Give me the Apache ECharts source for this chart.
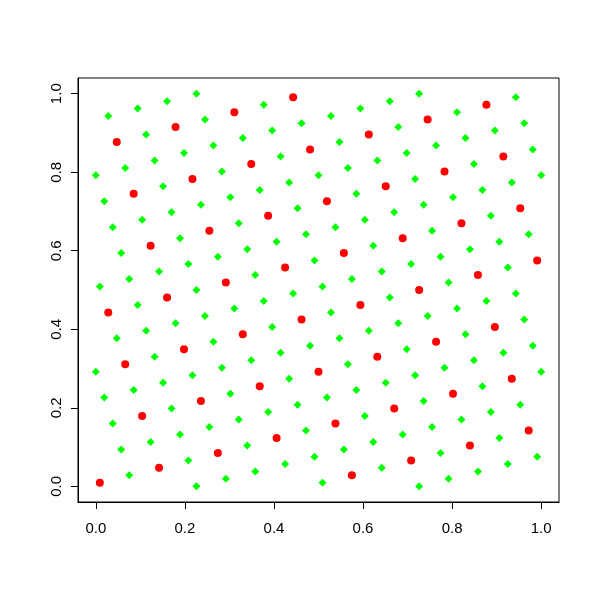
<!DOCTYPE html>
<html>
<head>
<meta charset="utf-8">
<script src="https://cdn.jsdelivr.net/npm/echarts@6/dist/echarts.min.js"></script>
<style>html,body{margin:0;padding:0;background:#fff;}#c{width:600px;height:600px;}</style>
</head>
<body>
<div id="c"></div>
<script>
var tickValues = [0, 0.2, 0.4, 0.6, 0.8, 1.0];

var redX = [0.009,0.028,0.047,0.066,0.085,0.104,0.123,0.142,0.160,0.179,0.198,0.217,0.236,0.255,0.274,0.292,0.311,0.330,0.349,0.368,0.387,0.406,0.425,0.443,0.462,0.481,0.500,0.519,0.538,0.557,0.575,0.594,0.613,0.632,0.651,0.670,0.689,0.708,0.726,0.745,0.764,0.783,0.802,0.821,0.840,0.858,0.877,0.896,0.915,0.934,0.953,0.972,0.991];
var redY = [0.009,0.443,0.877,0.311,0.745,0.179,0.613,0.047,0.481,0.915,0.349,0.783,0.217,0.651,0.085,0.519,0.953,0.387,0.821,0.255,0.689,0.123,0.557,0.991,0.425,0.858,0.292,0.726,0.160,0.594,0.028,0.462,0.896,0.330,0.764,0.198,0.632,0.066,0.500,0.934,0.368,0.802,0.236,0.670,0.104,0.538,0.972,0.406,0.840,0.274,0.708,0.142,0.575];

var greenX = [
0.000,0.000,0.019,0.019,0.038,0.038,0.057,0.057,0.075,0.075,0.094,0.094,0.113,0.113,0.132,0.132,0.151,0.151,0.170,0.170,
0.189,0.189,0.208,0.208,0.226,0.226,0.245,0.245,0.264,0.264,0.283,0.283,0.302,0.302,0.321,0.321,0.340,0.340,0.358,0.358,
0.377,0.377,0.396,0.396,0.415,0.415,0.434,0.434,0.453,0.453,0.472,0.472,0.491,0.491,0.509,0.509,0.528,0.528,0.547,0.547,
0.566,0.566,0.585,0.585,0.604,0.604,0.623,0.623,0.642,0.642,0.660,0.660,0.679,0.679,0.698,0.698,0.717,0.717,0.736,0.736,
0.755,0.755,0.774,0.774,0.792,0.792,0.811,0.811,0.830,0.830,0.849,0.849,0.868,0.868,0.887,0.887,0.906,0.906,0.925,0.925,
0.943,0.943,0.962,0.962,0.981,0.981,
0.009,0.028,0.047,0.066,0.085,0.104,0.123,0.142,0.160,0.179,0.198,0.217,0.236,0.255,0.274,0.292,0.311,0.330,0.349,0.368,
0.387,0.406,0.425,0.443,0.462,0.481,0.500,0.519,0.538,0.557,0.575,0.594,0.613,0.632,0.651,0.670,0.689,0.708,0.726,0.745,
0.764,0.783,0.802,0.821,0.840,0.858,0.877,0.896,0.915,0.934,0.953,0.972,0.991,
1.000,1.000,0.226,0.726];
var greenY = [
0.792,0.292,0.226,0.726,0.660,0.160,0.094,0.594,0.528,0.028,0.962,0.462,0.396,0.896,0.830,0.330,0.264,0.764,0.698,0.198,
0.132,0.632,0.566,0.066,0.000,0.500,0.434,0.934,0.868,0.368,0.302,0.802,0.736,0.236,0.170,0.670,0.604,0.104,0.038,0.538,
0.472,0.972,0.906,0.406,0.340,0.840,0.774,0.274,0.208,0.708,0.642,0.142,0.075,0.575,0.509,0.009,0.943,0.443,0.377,0.877,
0.811,0.311,0.245,0.745,0.679,0.179,0.113,0.613,0.547,0.047,0.981,0.481,0.415,0.915,0.849,0.349,0.283,0.783,0.717,0.217,
0.151,0.651,0.585,0.085,0.019,0.519,0.453,0.953,0.887,0.387,0.321,0.821,0.755,0.255,0.189,0.689,0.623,0.123,0.057,0.557,
0.491,0.991,0.925,0.425,0.358,0.858,
0.509,0.943,0.377,0.811,0.245,0.679,0.113,0.547,0.981,0.415,0.849,0.283,0.717,0.151,0.585,0.019,0.453,0.887,0.321,0.755,
0.189,0.623,0.057,0.491,0.925,0.358,0.792,0.226,0.660,0.094,0.528,0.962,0.396,0.830,0.264,0.698,0.132,0.566,0.000,0.434,
0.868,0.302,0.736,0.170,0.604,0.038,0.472,0.906,0.340,0.774,0.208,0.642,0.075,
0.792,0.292,1.000,1.000];

function pairs(xs, ys) {
  var out = [];
  for (var i = 0; i < xs.length; i++) out.push([xs[i], ys[i]]);
  return out;
}

var chart = echarts.init(document.getElementById('c'), null, {renderer: 'canvas'});
var fontFam = '"Liberation Sans", Arial, sans-serif';
function axisCommon() {
  return {
    type: 'value',
    min: -0.04,
    max: 1.04,
    splitLine: {show: false},
    axisLine: {show: true, onZero: false, lineStyle: {color: '#000', width: 1}},
    axisTick: {show: true, inside: false, length: 7, customValues: tickValues,
               lineStyle: {color: '#000', width: 1}},
    axisLabel: {show: true, customValues: tickValues, color: '#000', fontSize: 15,
                fontFamily: fontFam,
                formatter: function (v) { return v.toFixed(1); }}
  };
}
var xa = axisCommon();
xa.axisLabel.margin = 19;
var ya = axisCommon();
ya.axisLabel.rotate = 90;
ya.axisLabel.margin = 14;

chart.setOption({
  backgroundColor: '#fff',
  animation: false,
  grid: {left: 78, right: 41, top: 78, bottom: 98, show: true,
         borderColor: '#000', borderWidth: 1, backgroundColor: 'transparent'},
  xAxis: xa,
  yAxis: ya,
  series: [
    {type: 'scatter', name: 'green', data: pairs(greenX, greenY), symbol: 'diamond',
     symbolSize: 8, itemStyle: {color: '#00FF00', opacity: 1}, silent: true},
    {type: 'scatter', name: 'red', data: pairs(redX, redY), symbol: 'circle',
     symbolSize: 8, itemStyle: {color: '#FF0000', opacity: 1}, silent: true}
  ]
});
</script>
</body>
</html>
